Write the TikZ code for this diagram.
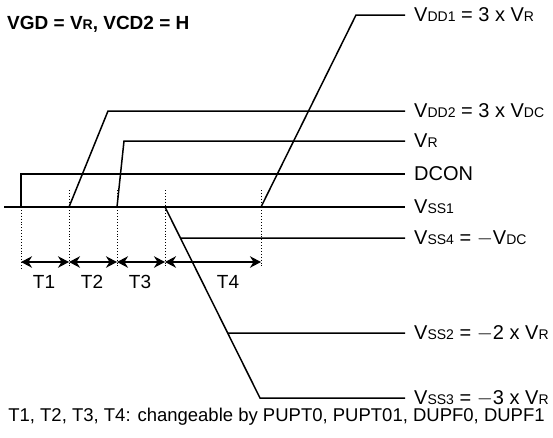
\documentclass[tikz,border=0pt]{standalone}
\usepackage{fontspec}
\setmainfont{Liberation Sans}
\usetikzlibrary{calc,arrows.meta}
\newcommand{\lv}[1]{V{\fontsize{14}{15}\selectfont #1}}
\tikzset{
   wave/.style={line width=1.5pt,line join=miter},
   mark line/.style={dotted,line width=0.9pt},
   span/.style={{Stealth[length=11pt,width=11.5pt,inset=3.5pt]}-{Stealth[length=11pt,width=11.5pt,inset=3.5pt]},line width=1.5pt},
   lvl/.style={anchor=west,inner xsep=9pt,inner ysep=0pt,font=\fontsize{20}{22}\selectfont},
   tlab/.style={font=\fontsize{19}{21}\selectfont},
}
\begin{document}
\begin{tikzpicture}[x=1pt,y=-1pt]
        \useasboundingbox (0,0) rectangle (553,437);

        \node[anchor=west,inner xsep=0pt,font=\fontsize{19}{21}\selectfont\bfseries] (cond) at (7,24) {VGD = \lv{R}, VCD2 = H};

        \node[lvl] (vdda) at (405,15)  {\lv{DD1} = 3 x \lv{R}};
        \node[lvl] (vddb) at (405,111) {\lv{DD2} = 3 x \lv{DC}};
        \node[lvl] (vr)   at (405,141) {\lv{R}};
        \node[lvl] (dcon) at (405,174) {DCON};
        \node[lvl] (vssa) at (405,207) {\lv{SS1}};
        \node[lvl] (vssd) at (405,238) {\lv{SS4} = $-$\lv{DC}};
        \node[lvl] (vssb) at (405,333) {\lv{SS2} = $-$2 x \lv{R}};
        \node[lvl] (vssc) at (405,398) {\lv{SS3} = $-$3 x \lv{R}};

        \coordinate (start) at (4,207);
        \coordinate (ta) at (21,207);
        \coordinate (tb) at (69,207);
        \coordinate (tc) at (117,207);
        \coordinate (td) at (165,207);
        \coordinate (te) at (261,207);
        \coordinate (dconup) at (21,174);
        \coordinate (vddbtop) at (108,111);
        \coordinate (vrtop) at (124,141);
        \coordinate (vddatop) at (356,15);
        \coordinate (vsscbot) at (260,398);
        \coordinate (vssdfrom) at ($(td)!{31/191}!(vsscbot)$);
        \coordinate (vssbfrom) at ($(td)!{126/191}!(vsscbot)$);

        \draw[wave] (start) -- (vssa.west);
        \draw[wave] (ta) -- (dconup) -- (dcon.west);
        \draw[wave] (tb) -- (vddbtop) -- (vddb.west);
        \draw[wave] (tc) -- (vrtop) -- (vr.west);
        \draw[wave] (te) -- (vddatop) -- (vdda.west);
        \draw[wave] (td) -- (vsscbot) -- (vssc.west);
        \draw[wave] (vssdfrom) -- (vssd.west);
        \draw[wave] (vssbfrom) -- (vssb.west);

        \coordinate (ma) at (21,262);
        \coordinate (mb) at (69,262);
        \coordinate (mc) at (117,262);
        \coordinate (md) at (165,262);
        \coordinate (me) at (261,262);

        \draw[mark line] (ta) -- (21,268);
        \draw[mark line] (69,190) -- (69,268);
        \draw[mark line] (117,190) -- (117,268);
        \draw[mark line] (165,190) -- (165,268);
        \draw[mark line] (261,190) -- (261,268);

        \draw[span] (ma) -- (mb);
        \draw[span] (mb) -- (mc);
        \draw[span] (mc) -- (md);
        \draw[span] (md) -- (me);

        \node[tlab] (tone)   at (44,282)  {T1};
        \node[tlab] (ttwo)   at (92,282)  {T2};
        \node[tlab] (tthree) at (140,282) {T3};
        \node[tlab] (tfour)  at (228,282) {T4};

        \node[tlab,font=\fontsize{18.5}{20}\selectfont] (note) at (276.5,417) {T1, T2, T3, T4: changeable by PUPT0, PUPT01, DUPF0, DUPF1};
    \end{tikzpicture}
\end{document}
